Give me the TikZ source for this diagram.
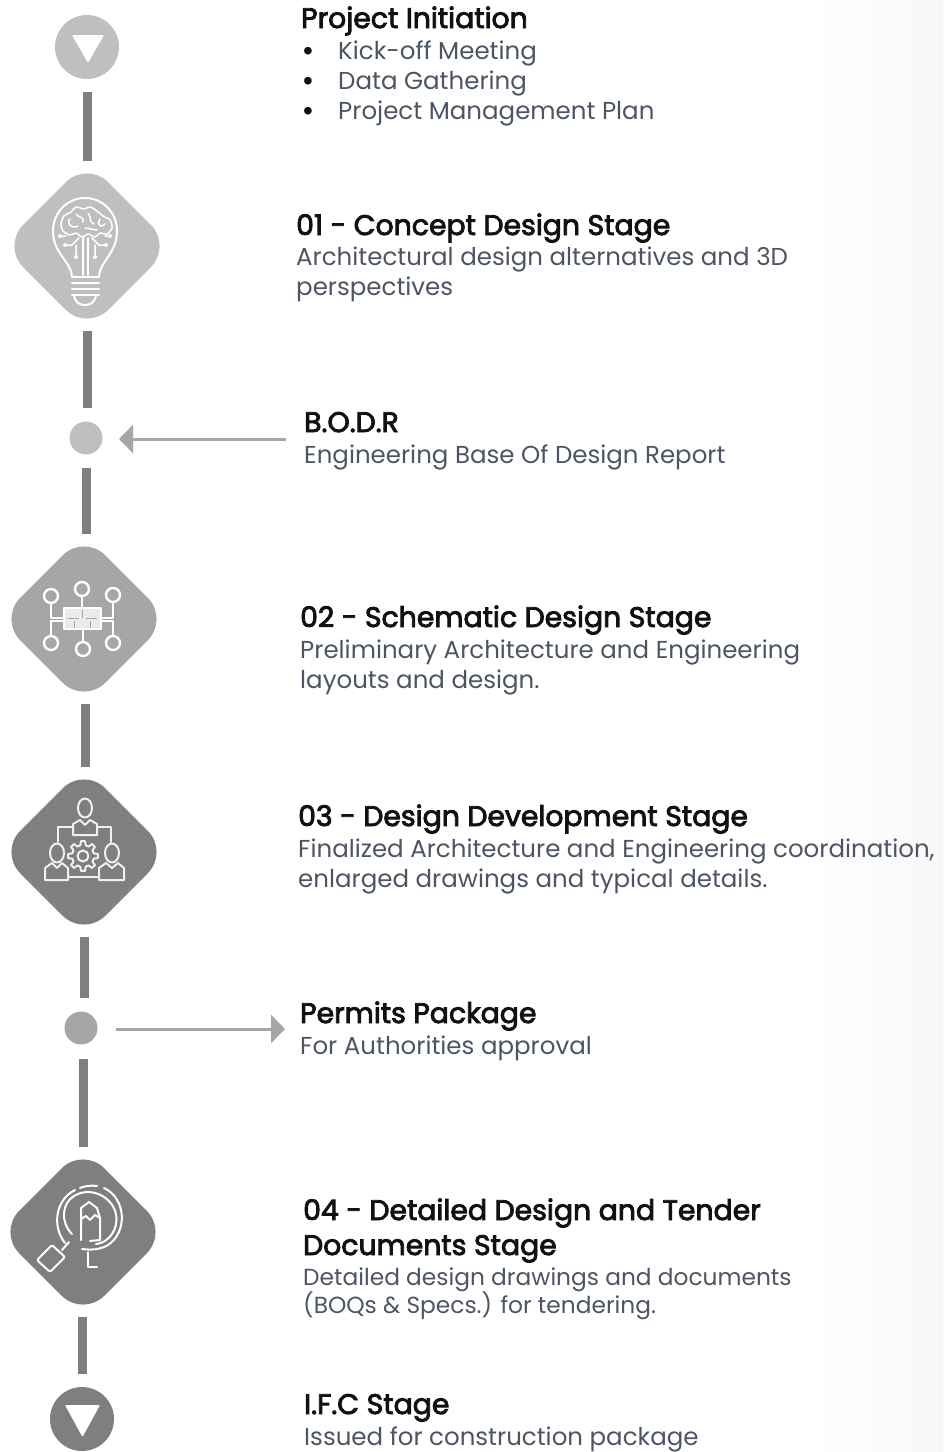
\documentclass[tikz,border=0pt]{standalone}
\usepackage{fontspec}
\setmainfont{Poppins}
\newfontfamily\headfont[FakeBold=3]{Poppins}
\newfontfamily\bulletfont{Liberation Sans}
\usetikzlibrary{arrows.meta,shapes.geometric}

\definecolor{barGray}{HTML}{7F7F7F}
\definecolor{midGray}{HTML}{A6A6A6}
\definecolor{softGray}{HTML}{BFBFBF}
\definecolor{headInk}{HTML}{111111}
\definecolor{bodyInk}{HTML}{4C5563}

\tikzset{
stagebox/.style={shape=diamond,aspect=1,inner sep=0pt,outer sep=0pt,minimum size=170pt,rounded corners=30pt,fill=#1},
endpoint/.style={circle,inner sep=0pt,outer sep=0pt,minimum size=64pt,fill=#1},
milestone/.style={circle,inner sep=0pt,outer sep=0pt,minimum size=33pt,fill=#1},
stagebar/.style={line width=9pt,color=barGray},
sidearrow/.style={line width=3pt,color=midGray,-{Triangle[length=14pt,width=28pt]}},
heading/.style={anchor=base west,inner sep=0pt,font=\headfont\fontsize{28.3}{28.3}\selectfont,text=headInk},
bodyline/.style={anchor=base west,inner sep=0pt,font=\fontsize{24.5}{24.5}\selectfont,text=bodyInk},
smallline/.style={bodyline,font=\fontsize{23.3}{23.3}\selectfont},
bulletmark/.style={anchor=base,inner sep=0pt,font=\bulletfont\fontsize{28}{28}\selectfont,text=headInk},
iconline/.style={draw=white,line width=2pt,line cap=round,line join=round},
thinline/.style={iconline,line width=1.5pt},
teamline/.style={iconline,draw=white!88!barGray,line width=2pt}
}

\begin{document}
\begin{tikzpicture}[x=1pt,y=-1pt]
%\draw[help lines] (0,0) grid (943,1452);
\path[use as bounding box] (0,0) rectangle (943,1452);
\shade[left color=white,right color=black!3] (810,0) rectangle (943,1452);

\node[endpoint=softGray] (start) at (87,47) {};
\node[stagebox=softGray] (concept) at (87,246) {};
\node[milestone=softGray] (bodr) at (86,438) {};
\node[stagebox=midGray] (schematic) at (84,619) {};
\node[stagebox=barGray] (development) at (84,852) {};
\node[milestone=midGray] (permits) at (81,1028) {};
\node[stagebox=barGray] (detailed) at (83,1232) {};
\node[endpoint=barGray] (ifc) at (82,1419) {};

\coordinate (bodr-from) at (286,439);
\coordinate (permits-to) at (285,1029);

\draw[stagebar,shorten <=13pt] (start.south) -- (start.south |- concept.north);
\draw[stagebar,shorten >=13.5pt] (concept.south) -- (concept.south |- bodr.north);
\draw[stagebar,shorten <=13.5pt] (bodr.south) -- (bodr.south |- schematic.north);
\draw[stagebar] ([xshift=1pt]schematic.south) -- ([xshift=1pt]schematic.south |- development.north);
\draw[stagebar,shorten >=13.5pt] (development.south) -- (development.south |- permits.north);
\draw[stagebar,shorten <=14.5pt] ([xshift=2pt]permits.south) -- ([xshift=2pt]permits.south |- detailed.north);
\draw[stagebar,shorten >=13pt] ([xshift=-1pt]detailed.south) -- ([xshift=-1pt]detailed.south |- ifc.north);

\draw[sidearrow,shorten >=33pt] (bodr-from) -- (bodr-from -| bodr);
\draw[sidearrow,shorten <=35pt] (permits-to -| permits) -- (permits-to);

\fill[white,rounded corners=1pt] (72,35) -- (104,35) -- (88,63) -- cycle;
\fill[white,rounded corners=1pt] (65,1405) -- (100,1405) -- (82.5,1437) -- cycle;

% bulb
\draw[iconline] (72,277) .. controls (72,262) and (53,254) .. (53,231) .. controls (53,213) and (67,198) .. (85,198) .. controls (103,198) and (117,213) .. (117,231) .. controls (117,254) and (99,262) .. (99,277);
\draw[thinline] plot[smooth cycle] coordinates {(61,224)(64,216)(71,212)(76,207)(84,209)(90,207)(97,211)(103,216)(110,220)(112,228)(107,234)(100,233)(95,237)(88,234)(82,237)(76,233)(70,235)(63,231)};
\draw[thinline] (70,219) .. controls (66,224) and (72,229) .. (78,226) (76,214) .. controls (80,219) and (84,216) .. (83,222) (88,213) .. controls (92,217) and (88,222) .. (94,224) (100,219) .. controls (96,226) and (102,228) .. (105,224) (85,228) -- (97,230);
\foreach \ex/\ey in {72/277,72/283,72/289,72/295}
  \draw[iconline] (\ex,\ey) -- +(27,0);
\draw[iconline] (74,295) .. controls (75,303) and (80,305) .. (85,305) .. controls (90,305) and (95,303) .. (96,295);
\draw[thinline] (83,238) -- (83,275) (88,238) -- (88,275);
\draw[thinline] (79,238) -- (72,245) -- (66,245) (76,245) -- (76,256) (92,238) -- (99,245) -- (105,245) (95,245) -- (95,256) (66,236) -- (60,236) (105,236) -- (110,236);
\foreach \ex/\ey in {65/245,76/257,106/245,95/257,60/236,110/236}
  \fill[white] (\ex,\ey) circle (2);

% network
\foreach \ex/\ey in {82/589,51/596,113/595,51/643,83/649,113/643}
  \draw[iconline,line width=2.4pt] (\ex,\ey) circle (7);
\draw[iconline,line width=2.4pt] (82,596) -- (82,608) (83,630) -- (83,642)
(51,603) -- (51,618) -- (63,618) (113,602) -- (113,618) -- (102,618)
(51,636) -- (51,621) -- (63,621) (113,636) -- (113,621) -- (102,621);
\draw[iconline,line width=1.5pt,fill=white!92!black] (64,608) rectangle (101,629);
\draw[midGray,line width=1pt] (68,618) -- (79,618) (86,618) -- (97,618) (82,610) -- (82,618) (74,621) -- (74,628) (90,621) -- (90,628);

% team
\foreach \ex/\ey in {85/808,57/853,112/853}
  \draw[teamline] (\ex,\ey) ellipse (7 and 9.5);
\draw[teamline] (73,835) -- (73,824) -- (80,820) -- (85,825) -- (90,820) -- (97,824) -- (97,835) -- cycle;
\draw[teamline] (45,880) -- (45,868) -- (52,863) -- (57,868) -- (62,863) -- (68,868) -- (68,880) -- cycle;
\draw[teamline] (99,880) -- (99,868) -- (106,863) -- (112,868) -- (118,863) -- (124,868) -- (124,880) -- cycle;
\draw[teamline] (73,827) -- (58,827) -- (58,842) (97,827) -- (111,827) -- (111,842) (68,877) -- (99,877);
\begin{scope}[shift={(83,856)}]
\foreach \ang in {0,45,...,315}
  \draw[teamline] (\ang-8:15) -- (\ang+8:15) -- (\ang+14:11) -- (\ang+31:11) -- (\ang+37:15);
\draw[teamline] (0,0) circle (5.5);
\end{scope}

% magnifier
\draw[iconline] (65,1243) .. controls (52,1227) and (55,1200) .. (75,1190);
\draw[iconline] (80,1188) .. controls (84,1186) and (92,1185) .. (97,1186);
\draw[iconline] (104,1188) .. controls (126,1198) and (128,1232) .. (108,1245) .. controls (100,1250) and (90,1250) .. (82,1249);
\draw[iconline] (72,1234) .. controls (60,1222) and (62,1203) .. (74,1196) .. controls (90,1186) and (112,1196) .. (116,1214) .. controls (119,1230) and (108,1243) .. (96,1244);
\draw[iconline] (81,1240) -- (81,1218) -- (81,1208) -- (89,1202) -- (97,1208) -- (100,1218) -- (100,1240) -- (90,1241);
\draw[iconline] (81,1219) -- (86,1216) -- (90,1220) -- (95,1215) -- (100,1218);
\draw[iconline] (88,1252) -- (88,1267) -- (97,1267);
\draw[iconline] (62,1250) -- (69,1242);
\draw[iconline,rounded corners=2pt] (52,1245) -- (65,1257) -- (50,1272) -- (37,1260) -- cycle;

\node[heading] (head-start) at (301,28) {Project Initiation};
\node[bulletmark] (bullet-a) at (308,60) {•};
\node[bodyline] (item-a) at (338,59) {Kick-off Meeting};
\node[bulletmark] (bullet-b) at (308,90) {•};
\node[bodyline] (item-b) at (338,89) {Data Gathering};
\node[bulletmark] (bullet-c) at (308,120) {•};
\node[bodyline] (item-c) at (338,119) {Project Management Plan};

\node[heading] (head-concept) at (296,235) {01 - Concept Design Stage};
\node[bodyline] (text-concept-a) at (296,265) {Architectural design alternatives and 3D};
\node[bodyline] (text-concept-b) at (296,295) {perspectives};

\node[heading] (head-bodr) at (304,432) {B.O.D.R};
\node[bodyline] (text-bodr) at (304,463) {Engineering Base Of Design Report};

\node[heading] (head-schematic) at (300,627) {02 - Schematic Design Stage};
\node[bodyline] (text-schematic-a) at (300,658) {Preliminary Architecture and Engineering};
\node[bodyline] (text-schematic-b) at (300,688) {layouts and design.};

\node[heading] (head-development) at (298,826) {03 - Design Development Stage};
\node[bodyline] (text-development-a) at (298,857) {Finalized Architecture and Engineering coordination,};
\node[bodyline] (text-development-b) at (298,887) {enlarged drawings and typical details.};

\node[heading] (head-permits) at (300,1023) {Permits Package};
\node[bodyline] (text-permits) at (300,1054) {For Authorities approval};

\node[heading] (head-detailed-a) at (303,1220) {04 - Detailed Design and Tender};
\node[heading] (head-detailed-b) at (303,1255) {Documents Stage};
\node[smallline] (text-detailed-a) at (303,1285) {Detailed design drawings and documents};
\node[smallline] (text-detailed-b) at (303,1313) {(BOQs \& Specs.) for tendering.};

\node[heading] (head-ifc) at (304,1414) {I.F.C Stage};
\node[bodyline] (text-ifc) at (304,1445) {Issued for construction package};

\end{tikzpicture}
\end{document}
